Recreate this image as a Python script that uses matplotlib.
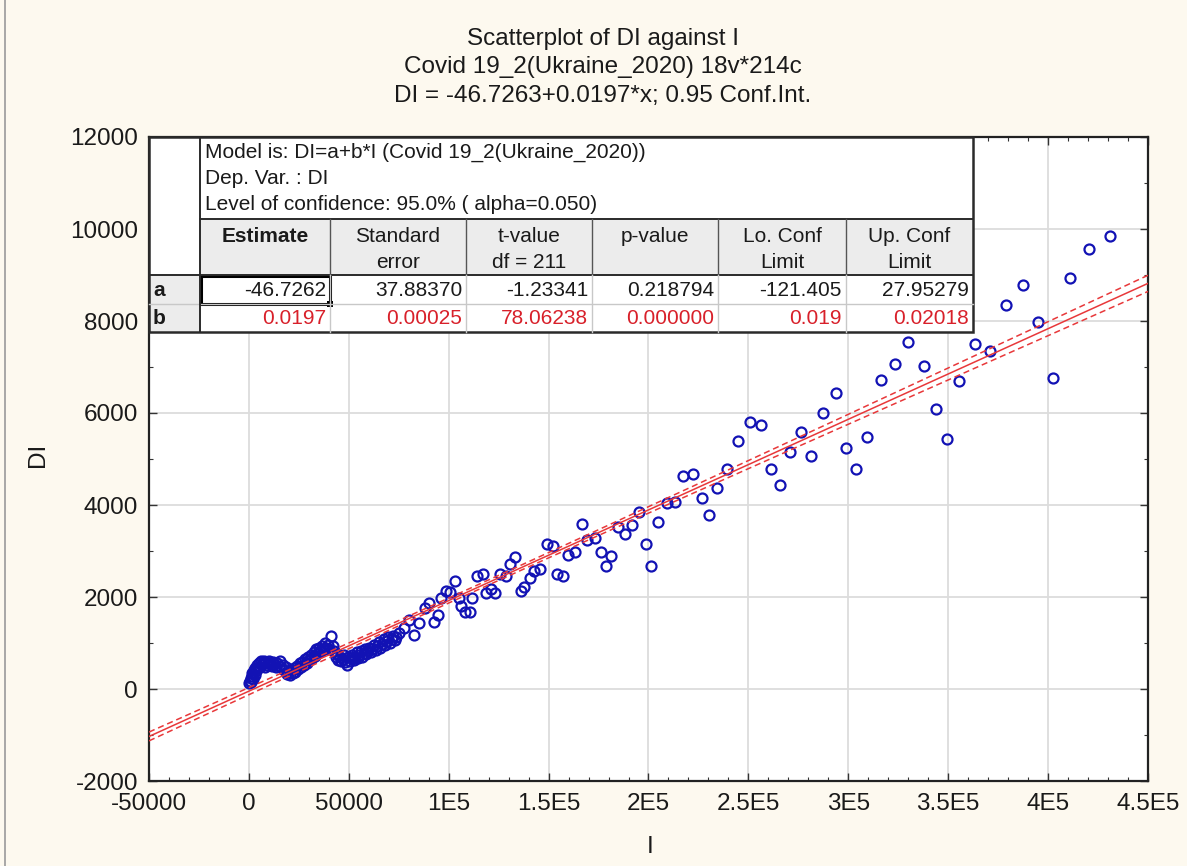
import numpy as np
import matplotlib
matplotlib.use('Agg')
import matplotlib.pyplot as plt
from matplotlib.patches import Rectangle
from matplotlib.ticker import MultipleLocator

plt.rcParams['font.family'] = ['Liberation Sans', 'DejaVu Sans']
plt.rcParams['axes.unicode_minus'] = False

# Cumulative cases (I) and daily increase (DI)
# dense early part of the epidemic (I < 75000)
early_I = [300, 600, 900, 1200, 1500, 1800, 2100, 2500, 2900, 3300, 3700, 4100, 4600, 5100,
           5600, 6200, 6800, 7400, 8000, 8700, 9300, 10000, 10700, 11400, 12100, 12800, 13500,
           14200, 14900, 15600, 16300, 17000, 17700, 18400, 19100, 19800, 20500, 21200, 21900,
           22600, 23300, 24000, 24700, 25400, 26100, 26800, 27500, 28200, 28900, 29600, 30300,
           31000, 31700, 32400, 33100, 33800, 34500, 35200, 35900, 36600, 37300, 38000, 38700,
           39400, 40100, 41300, 42000, 42700, 43400, 44100, 44800, 45500, 46200, 46900, 47600,
           48300, 49000, 49700, 50400, 51100, 51800, 52500, 53200, 53900, 54600, 55300, 56000,
           56700, 57400, 58100, 58800, 59500, 60200, 61000, 61800, 62600, 63400, 64200, 65000,
           65800, 66600, 67400, 68200, 69000, 69800, 70600, 71400, 72200, 73000, 73800]
early_DI = [120, 180, 230, 160, 280, 350, 220, 410, 300, 460, 390, 520, 450, 560,
            480, 600, 540, 610, 470, 580, 520, 600, 560, 500, 590, 540, 470,
            560, 510, 600, 480, 530, 410, 470, 330, 380, 300, 420, 340,
            460, 380, 500, 430, 560, 470, 590, 520, 650, 560, 700, 620,
            750, 680, 800, 720, 860, 780, 900, 820, 940, 870, 990, 900,
            960, 880, 1150, 930, 820, 700, 760, 640, 700, 600, 660, 730,
            580, 520, 700, 610, 680, 750, 640, 700, 800, 680, 740, 820,
            700, 790, 860, 760, 830, 900, 800, 870, 960, 850, 930, 1020,
            900, 980, 1080, 960, 1040, 1120, 1000, 1080, 1150, 1060, 1130]

# later part (I >= 75000)
late_I = [75000, 77500, 80000, 82500, 85000, 88330, 90000, 92830, 94500, 96000, 98830, 100830,
          103170, 105170, 106330, 108330, 110500, 111830, 114330, 117170, 118830, 121170,
          123330, 125500, 128500, 130830, 133330, 136000, 137670, 140500, 142500, 145830,
          149330, 152000, 154170, 157000, 159670, 163330, 166500, 169170, 173000, 176170,
          178670, 181330, 184670, 188170, 191830, 195330, 198670, 201500, 205000, 209170,
          213330, 217500, 222330, 226670, 230170, 234500, 239500, 244830, 250830, 256170,
          261330, 265670, 271000, 276170, 281500, 287500, 293670, 298830, 304000, 309330,
          316170, 323170, 330000, 338000, 344000, 349330, 355500, 363170, 371000, 378830,
          387500, 395170, 402330, 411170, 420670, 431150]
late_DI = [1217, 1319, 1500, 1174, 1442, 1768, 1876, 1464, 1609, 1985, 2130, 2116,
           2348, 1985, 1811, 1667, 1667, 1971, 2457, 2493, 2094, 2167,
           2094, 2493, 2457, 2710, 2862, 2123, 2210, 2420, 2572, 2609,
           3159, 3116, 2493, 2457, 2906, 2971, 3594, 3232, 3275, 2978,
           2681, 2899, 3522, 3377, 3565, 3855, 3152, 2681, 3638, 4043,
           4072, 4630, 4674, 4152, 3790, 4377, 4775, 5399, 5804, 5732,
           4775, 4442, 5145, 5587, 5065, 5993, 6435, 5246, 4775, 5471,
           6724, 7058, 7536, 7022, 6094, 5442, 6696, 7500, 7355, 8341,
           8790, 7985, 6761, 8935, 9558, 9854]

# fitted model DI = a + b*I (from the results table)
a_coef = -46.7263
b_coef = 0.0197
se_b = 0.00025
t_crit = 1.9712  # t(0.975, df=211)

x_ticks = [-50000, 0, 50000, 100000, 150000, 200000, 250000, 300000, 350000, 400000, 450000]
x_tick_labels = ['-50000', '0', '50000', '1E5', '1.5E5', '2E5', '2.5E5', '3E5', '3.5E5', '4E5', '4.5E5']
y_ticks = [-2000, 0, 2000, 4000, 6000, 8000, 10000, 12000]

title_lines = ['Scatterplot of DI against I',
               'Covid 19_2(Ukraine_2020) 18v*214c',
               'DI = -46.7263+0.0197*x; 0.95 Conf.Int.']

info_lines = ['Model is: DI=a+b*I (Covid 19_2(Ukraine_2020))',
              'Dep. Var. : DI',
              'Level of confidence: 95.0% ( alpha=0.050)']
table_header = ['Estimate', 'Standard\nerror', 't-value\ndf = 211', 'p-value', 'Lo. Conf\nLimit', 'Up. Conf\nLimit']
row_names = ['a', 'b']
row_a = ['-46.7262', '37.88370', '-1.23341', '0.218794', '-121.405', '27.95279']
row_b = ['0.0197', '0.00025', '78.06238', '0.000000', '0.019', '0.02018']

bg = '#fdf9ef'
W, H = 1187, 866
fig = plt.figure(figsize=(W / 100, H / 100), dpi=100, facecolor=bg)

ax = fig.add_axes([149 / W, 1 - 781 / H, 999 / W, 644 / H])
ax.set_facecolor('white')

I = np.array(early_I + late_I, dtype=float)
DI = np.array(early_DI + late_DI, dtype=float)

# regression line with 95% confidence band for the mean, using the table's se(b)
n = len(I)
xbar = I.mean()
sxx = np.sum((I - xbar) ** 2)
xs = np.linspace(-50000, 450000, 300)
fit = a_coef + b_coef * xs
half = t_crit * se_b * np.sqrt(sxx / n + (xs - xbar) ** 2)

ax.plot(I, DI, 'o', mfc='none', mec='#1212b4', ms=7.2, mew=1.6, zorder=3)
ax.plot(xs, fit, color='#e8383a', lw=1.1, zorder=4)
ax.plot(xs, fit + half, color='#e8383a', lw=1.1, ls=(0, (4, 2.5)), zorder=4)
ax.plot(xs, fit - half, color='#e8383a', lw=1.1, ls=(0, (4, 2.5)), zorder=4)

ax.set_xlim(-50000, 450000)
ax.set_ylim(-2000, 12000)
ax.set_xticks(x_ticks)
ax.set_xticklabels(x_tick_labels)
ax.set_yticks(y_ticks)
ax.xaxis.set_minor_locator(MultipleLocator(10000))
ax.yaxis.set_minor_locator(MultipleLocator(1000))
ax.tick_params(which='both', direction='in', top=True, right=True, color='#333333')
ax.tick_params(which='major', length=6, width=1, labelsize=17.5, labelcolor='#1a1a1a')
ax.tick_params(axis='x', which='major', pad=8.5)
ax.tick_params(axis='y', which='major', pad=8)
ax.tick_params(which='minor', length=3, width=0.8)
ax.grid(True, which='major', color='#dcdcdc', lw=1.3)
ax.set_axisbelow(True)
for sp in ax.spines.values():
    sp.set_linewidth(1.6)
    sp.set_color('#222222')

fig.text(38 / W, 1 - 455 / H, 'DI', rotation=90, ha='center', va='center', fontsize=17.5, color='#1a1a1a')
fig.text(650 / W, 1 - 847 / H, 'I', ha='center', va='center', fontsize=17.5, color='#1a1a1a')
for i, line in enumerate(title_lines):
    fig.text(603 / W, 1 - (45 + 28.5 * i) / H, line, ha='center', va='baseline', fontsize=17.5, color='#1a1a1a')

# window edge on the left
fig.add_artist(plt.Line2D([5 / W, 5 / W], [0, 1], color='#9a9a9a', lw=1.2))

# results table drawn in pixel coordinates on top of the plot
ov = fig.add_axes([0, 0, 1, 1], zorder=10)
ov.set_xlim(0, W)
ov.set_ylim(H, 0)
ov.axis('off')

col_edges = [200, 330, 466, 592, 718, 846, 973]
t_left, t_top, h_top, h_bot, r_mid, t_bot = 149, 137, 219, 275, 304, 332
dark = '#2a2a2a'
light = '#c8c8c8'
ov.add_patch(Rectangle((t_left, t_top), col_edges[-1] - t_left, t_bot - t_top, fc='white', ec='none'))
ov.add_patch(Rectangle((col_edges[0], h_top), col_edges[-1] - col_edges[0], h_bot - h_top, fc='#ececec', ec='none'))
ov.add_patch(Rectangle((t_left, h_bot), col_edges[0] - t_left, t_bot - h_bot, fc='#ececec', ec='none'))
ov.plot([col_edges[0], col_edges[-1]], [h_top, h_top], color=dark, lw=1.4)
ov.plot([t_left, col_edges[-1]], [h_bot, h_bot], color=dark, lw=1.4)
ov.plot([t_left, col_edges[-1]], [r_mid, r_mid], color=light, lw=1)
ov.plot([col_edges[0], col_edges[0]], [t_top, t_bot], color=dark, lw=1.4)
for xe in col_edges[1:-1]:
    ov.plot([xe, xe], [h_top, h_bot], color='#555555', lw=1)
    ov.plot([xe, xe], [h_bot, t_bot], color=light, lw=1)
ov.add_patch(Rectangle((t_left, t_top), col_edges[-1] - t_left, t_bot - t_top, fc='none', ec=dark, lw=1.8))
# selected cell
ov.add_patch(Rectangle((col_edges[0] + 1, h_bot + 1), col_edges[1] - col_edges[0] - 1, r_mid - h_bot - 1,
                       fc='none', ec='black', lw=2.2))
ov.add_patch(Rectangle((col_edges[1] - 3, r_mid - 3), 6, 6, fc='black', ec='none'))

tfs = 15
for i, line in enumerate(info_lines):
    ov.text(205, 152 + 26.5 * i, line, ha='left', va='center', fontsize=tfs, color='#1a1a1a')
for j, lab in enumerate(table_header):
    cx = (col_edges[j] + col_edges[j + 1]) / 2
    for k, part in enumerate(lab.split('\n')):
        ov.text(cx, 236 + 26 * k, part, ha='center', va='center', fontsize=tfs, color='#1a1a1a',
                fontweight='bold' if j == 0 else 'normal')
for r, (name, vals, col) in enumerate(zip(row_names, [row_a, row_b], ['#1a1a1a', '#d8202a'])):
    yc = 291 + 27 * r
    ov.text(153, yc, name, ha='left', va='center', fontsize=tfs, fontweight='bold', color='#1a1a1a')
    for j, v in enumerate(vals):
        ov.text(col_edges[j + 1] - 4, yc, v, ha='right', va='center', fontsize=tfs, color=col)

fig.savefig('out.png', dpi=100, facecolor=bg)
